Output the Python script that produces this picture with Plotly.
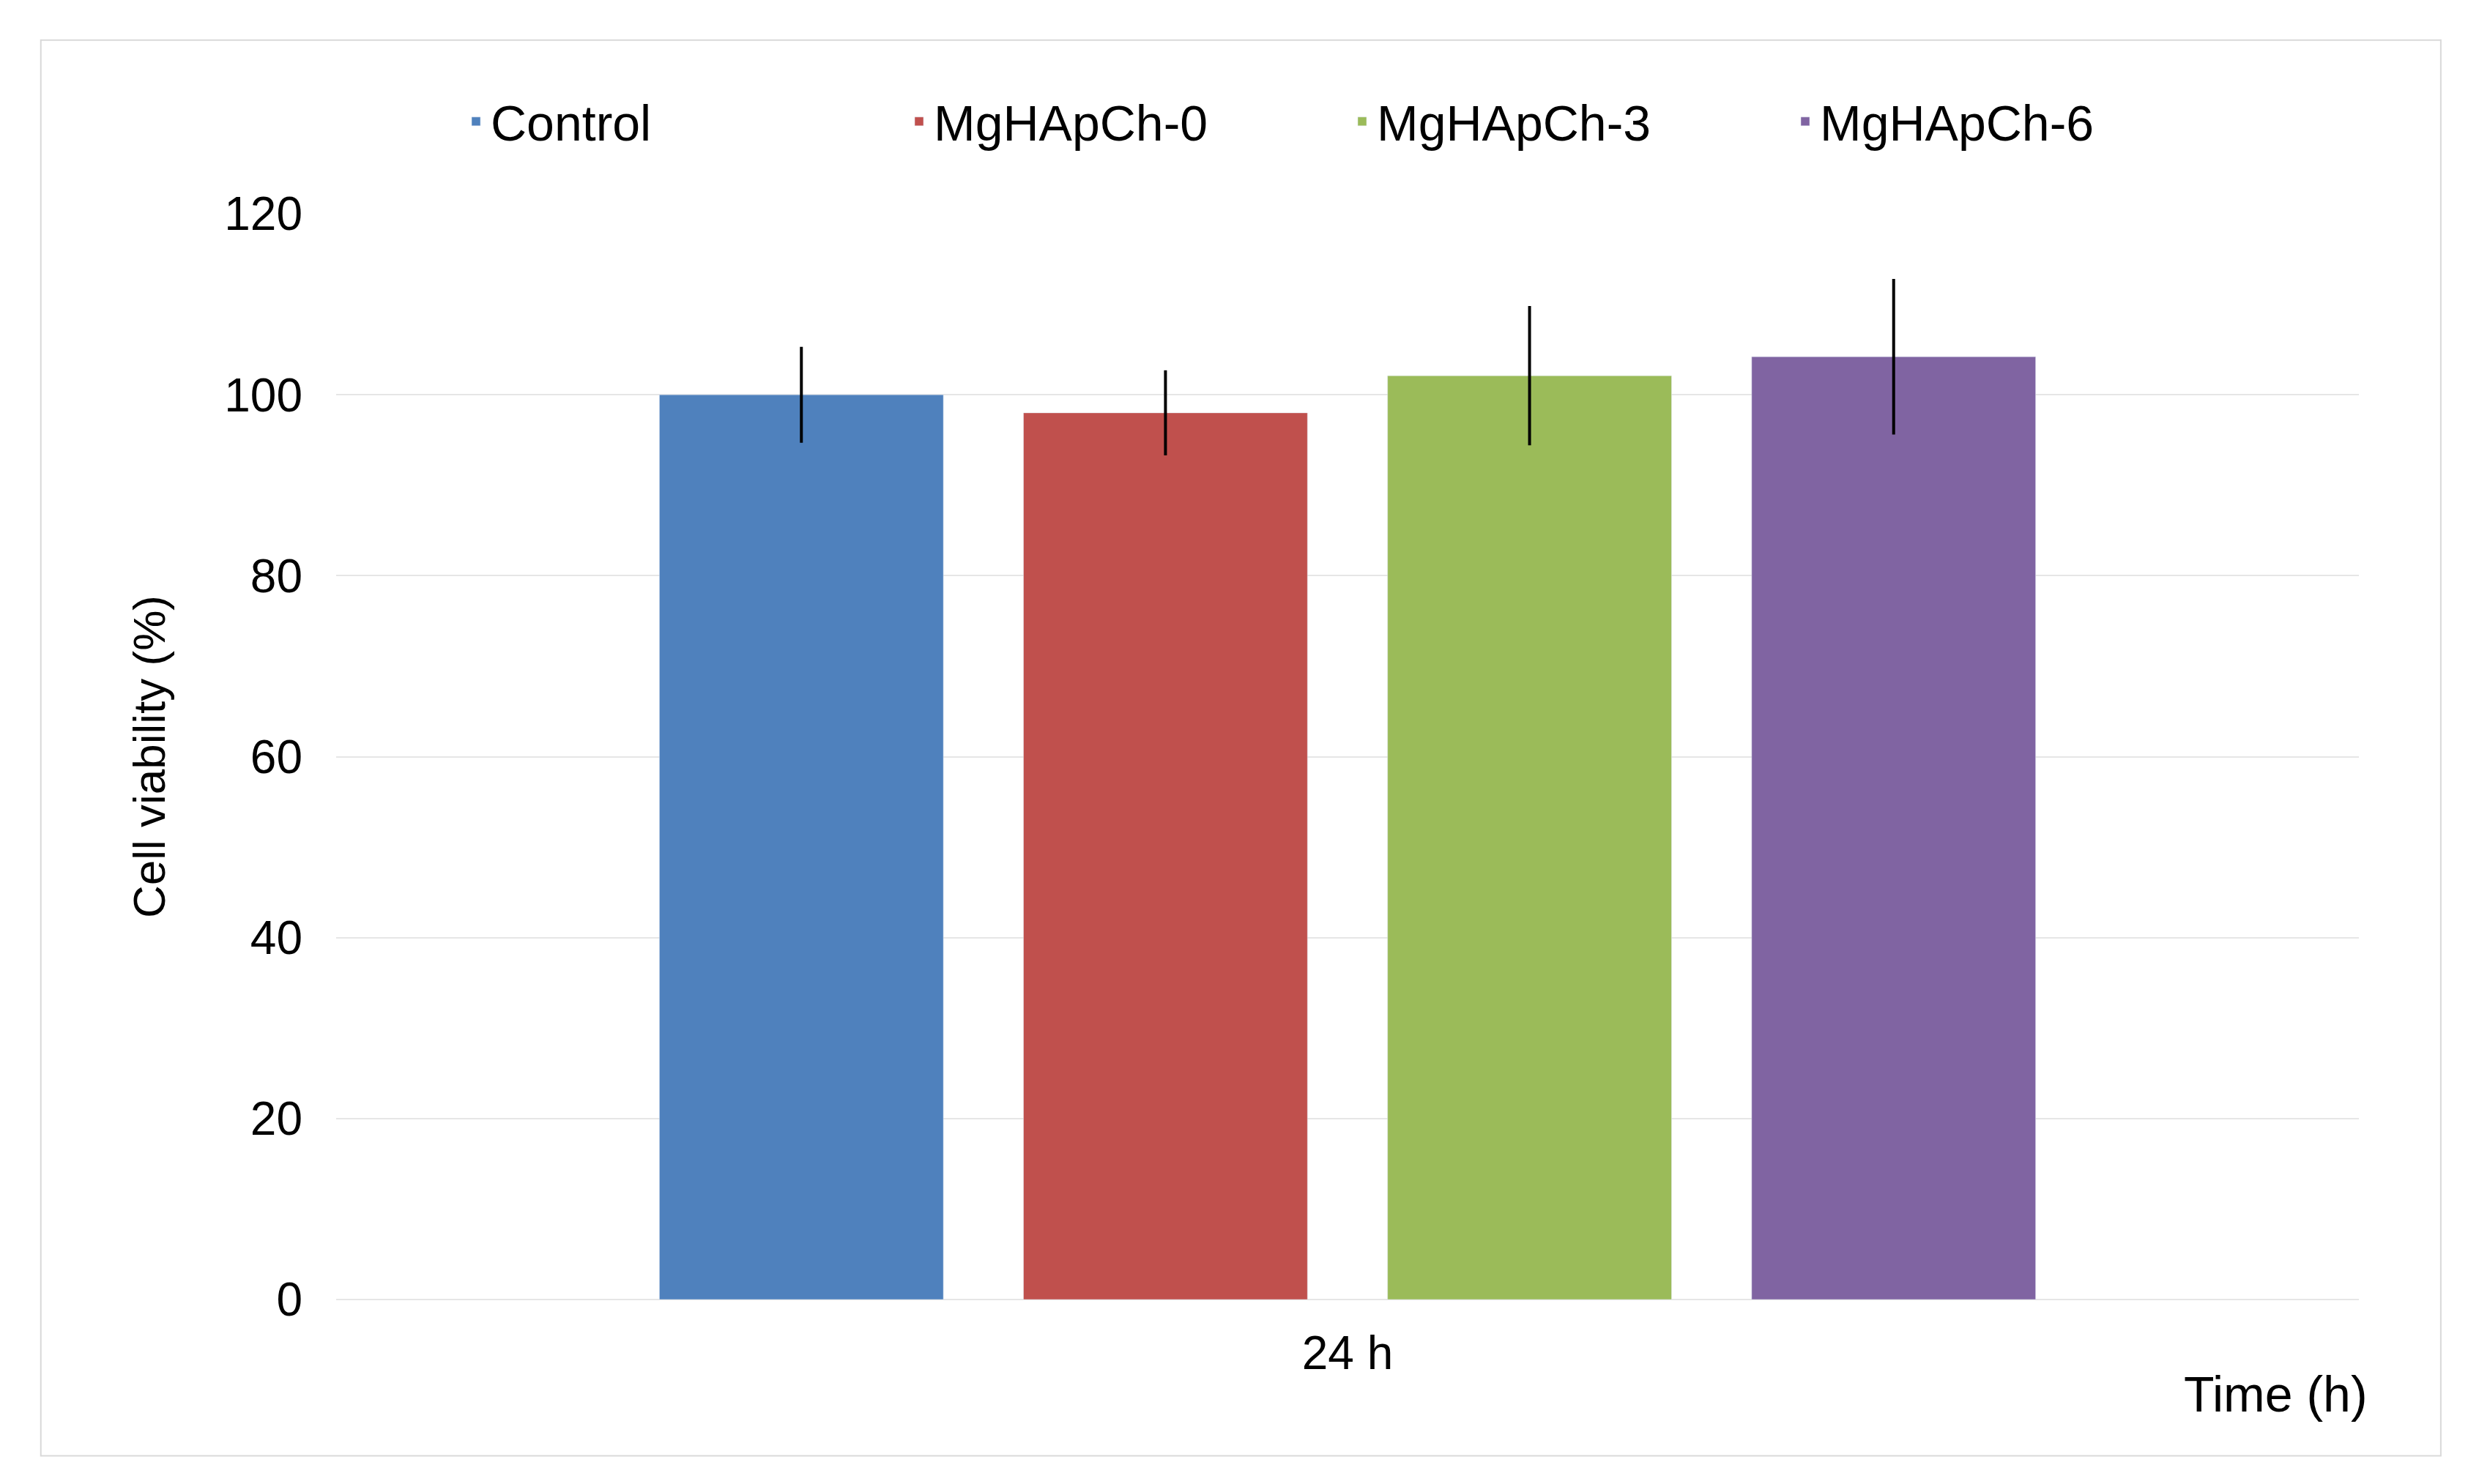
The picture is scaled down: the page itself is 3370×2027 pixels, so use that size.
import plotly.graph_objects as go

categories = ["24 h"]
series = ["Control", "MgHApCh-0", "MgHApCh-3", "MgHApCh-6"]
values = [100, 98, 102.1, 104.2]
errors = [5.3, 4.7, 7.7, 8.6]
colors = ["#4F81BD", "#C0504D", "#9BBB59", "#8064A2"]
yticks = [0, 20, 40, 60, 80, 100, 120]

fig = go.Figure()
for s, v, e, c in zip(series, values, errors, colors):
    fig.add_trace(go.Bar(
        x=categories, y=[v], name=s, marker_color=c,
        error_y=dict(type="data", array=[e], color="black", thickness=4, width=0),
    ))

font = "Liberation Sans, Arial, sans-serif"
fig.update_layout(
    width=3370, height=2027, paper_bgcolor="white", plot_bgcolor="white",
    margin=dict(l=451, r=157, t=284, b=260, autoexpand=False),
    barmode="group", bargap=0.28, bargroupgap=0.22,
    font=dict(family=font, size=64, color="black"),
    legend=dict(orientation="h", x=0.5, xanchor="center", yref="container", y=0.922,
                yanchor="middle", font=dict(size=68), entrywidth=560, traceorder="normal"),
    xaxis=dict(showline=False, ticks="", tickfont=dict(size=64), ticklabelstandoff=30),
    yaxis=dict(range=[0, 120], tickvals=yticks, showgrid=True, gridcolor="#E6E6E6",
               gridwidth=2, zeroline=True, zerolinecolor="#E6E6E6", zerolinewidth=2,
               ticks="", ticklabelstandoff=45, tickfont=dict(size=64),
               title=dict(text="Cell viability (%)", font=dict(size=62), standoff=60)),
    shapes=[dict(type="rect", xref="paper", yref="paper", x0=-0.146, x1=1.0405,
                 y0=-0.144, y1=1.16, line=dict(color="#D9D9D9", width=2))],
    annotations=[dict(text="Time (h)", xref="paper", yref="paper", x=1.005, y=-0.06,
                      xanchor="right", yanchor="top", showarrow=False, font=dict(size=68))],
)
fig.write_html("out.html")
